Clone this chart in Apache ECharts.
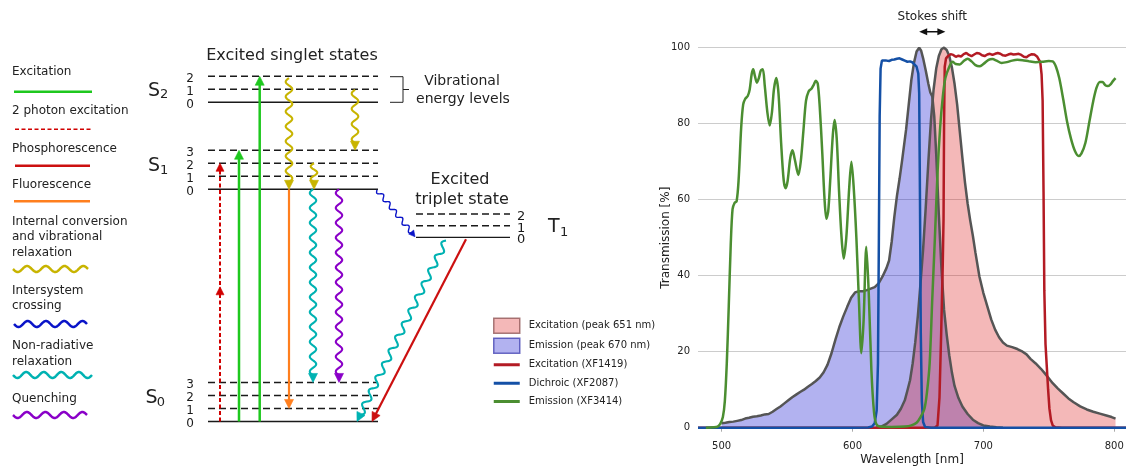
<!DOCTYPE html>
<html><head><meta charset="utf-8">
<script src="https://cdn.jsdelivr.net/npm/echarts@6/dist/echarts.min.js"></script>
<style>html,body{margin:0;padding:0;background:#fff}#c{width:1126px;height:467px}</style>
</head><body><div id="c"></div>
<script>
// ================= DATA =================
// Spectra: [wavelength nm, transmission %]
const emissionPeak = [[500,1.2],[503,1.3],[506,1.5],[509,1.6],[512,1.8],[515,2.0],[518,2.4],[521,2.6],[524,2.9],[527,3.0],[530,3.2],[533,3.5],[536,3.6],[539,4.2],[542,4.9],[545,5.6],[548,6.4],[551,7.2],[554,8.0],[557,8.7],[560,9.4],[563,10.0],[566,10.8],[569,11.5],[572,12.3],[575,13.2],[578,14.6],[581,16.6],[584,19.6],[587,23.2],[590,26.5],[593,29.3],[596,31.8],[599,34.2],[602,35.6],[605,35.9],[608,35.9],[611,36.2],[614,36.6],[617,37.0],[620,38.0],[623,39.8],[626,42.0],[628,44.0],[630,49.0],[632,55.5],[634,61.0],[636,65.5],[638,70.5],[641,78.5],[643,85],[645,91.5],[647,96],[649,99],[651,100],[652.5,99.2],[654,97.2],[656,94],[658,90.5],[659.5,88.2],[661,87.2],[662.5,82],[664,72],[666,56],[668,42],[670,31],[672,24.5],[674,19],[676,14.5],[678,11],[681,7.8],[684,5.6],[688,3.6],[692,2.1],[696,1.2],[700,0.6],[705,0.3],[710,0.1],[715,0]];
const excitationPeak = [[618,0],[622,0.3],[626,1.0],[630,2.2],[634,3.4],[637,5.0],[640,7.2],[642,9.8],[644,12.5],[646,16.9],[648,22.5],[650,29.5],[652,38],[654,47],[656,58],[658,70],[660,81],[662,89],[664,94.5],[666,97.8],[668,99.6],[670,100],[672,99.4],[674,97.8],[676,94.8],[678,90.5],[680,85],[682,78],[684,71],[686,64.5],[688,59],[690,54.5],[692,50.5],[694,46],[697,39.8],[700,35.5],[703,32],[706,28.5],[709,25.8],[712,23.8],[715,22.4],[718,21.6],[722,21.2],[726,20.7],[730,20.0],[733,19.3],[736,18.1],[740,16.9],[744,15.5],[747,14.3],[750,13.0],[753,11.7],[757,10.3],[761,9.0],[765,7.7],[769,6.7],[774,5.6],[779,4.8],[784,4.2],[789,3.7],[794,3.2],[798,2.8],[801,2.4]];
const filterExcitation = [[482,0],[655,0],[663,0.05],[665,0.6],[666.5,8],[667.8,25],[669,43],[669.6,55],[670,80],[670.5,95],[671.5,97.2],[673,97.8],[675,98.3],[677,98.1],[679,97.6],[681,97.9],[683,97.7],[685,98.3],[687,98.6],[689,98.1],[691,97.8],[693,98.2],[695,98.6],[697,98.5],[699,98],[701,97.8],[703,98.2],[705,98.4],[707,98.1],[709,98.4],[711,98.6],[713,98.4],[715,98],[717,97.9],[719,98.2],[721,98.4],[723,98.2],[725,98.3],[727,98.4],[729,98.1],[731,97.6],[733,97.5],[735,98],[737,98.3],[739,98.2],[741,97.7],[742.5,97.2],[743.5,96.2],[744.5,93],[745.3,86],[746,62],[746.6,36],[747.5,22],[748.5,16],[749.5,10],[750.5,5],[751.7,2],[753,0.6],[755,0.1],[760,0],[809,0]];
const filterDichroic = [[482,0],[600,0],[612,0.05],[615,0.3],[617,1.2],[618.5,4.5],[619.5,17],[620.2,50],[620.8,82],[621.5,94.5],[622.5,96.6],[624,96.4],[626,96.6],[628,96.5],[630,96.8],[632,96.9],[634,97.1],[636,97.2],[638,96.9],[640,96.6],[642,96.3],[644,96.4],[646,96.1],[647.5,95.7],[649,95],[650.3,93.2],[651,88],[651.6,60],[652.2,25],[653,7],[654,1.5],[655.5,0.2],[660,0],[809,0]];
const filterEmission = [[488,0],[494,0.1],[497,0.3],[499,1],[501,2.8],[502.5,7],[504,17],[505.5,32],[507,48],[508.4,57.5],[510,59.2],[511.5,59.6],[513,65],[515,79],[516.5,85],[518,86.5],[520,87.3],[521.5,89],[523,93],[524.2,94.3],[525.5,92.5],[527,90.8],[528.5,92],[530,94],[531.5,94.3],[533,90],[535,83],[536.8,79.5],[538.5,83],[540,89],[541.8,92],[543.5,88],[545.5,75],[547.5,65],[549,63],[550.5,65],[552.5,71],[554.2,73],[556,70.5],[558.7,66.5],[560.5,70],[562.5,78],[564.5,86],[566.5,88.5],[568.7,89.2],[570.5,90.3],[572,91.3],[573.5,90.5],[575,84.5],[577,72],[578.7,60],[580.1,55],[581.5,57],[583,65],[585,77],[586.4,81],[588,76],[589.8,62],[591.5,51],[593.3,44.5],[595.3,50],[597.5,63],[599.2,70],[601,63],[603,50],[605,33],[606.8,19.6],[608.5,28],[610.6,47.6],[612.5,35],[614.5,15],[616.5,4],[618.2,1],[621,0.3],[630,0.2],[640,0.3],[645,0.6],[649,1.3],[652,2.8],[655,5],[657,9.5],[659,17],[661,34],[663,50],[665,67],[667,79],[669,87],[671,92],[674,95],[676.5,96.3],[679,95.7],[682,95.6],[685,96.5],[688,97.1],[691,96.4],[694,95.4],[697,95.1],[700,95.7],[704,96.8],[707,97],[710,96.6],[714,96.0],[718,96.2],[722,96.6],[726,96.8],[730,96.7],[735,96.4],[740,96.2],[745,96.3],[750,96.5],[753,96.4],[755.5,95],[758,92],[761,86.5],[764,80.5],[767,76],[770,72.8],[772.8,71.5],[775,72.2],[778,75],[781,80.5],[784,86],[786.5,89.5],[789,91],[791,91],[793,90.2],[795,89.9],[797,90.3],[799,91.2],[801,92]];
const seriesNames = ['Excitation (peak 651 nm)','Emission (peak 670 nm)','Excitation (XF1419)','Dichroic (XF2087)','Emission (XF3414)'];
const xTicks = [500,600,700,800];
const stokes = [651, 671, 104.2];

// Jablonski diagram: energy levels (energy units; vibrational spacing = 1)
const levelState = ['S0','S1','S2','T1'];
const levelBase  = [0, 17.85, 24.54, 14.15];
const levelStep  = [1, 1, 1, 0.9];
const levelCount = [4, 4, 3, 3];
const levelX0    = [208, 208, 208, 416];
const levelX1    = [378, 378, 378, 510];
// transitions
const transKind = ['twoPhoton','excitation','excitation','ic','ic','ic','fluor','nonrad','quench','isc','nonrad','phos'];
const transX0   = [220, 239, 259.7, 289, 355, 314, 289, 313, 339, 377, 446, 466];
const transE0   = [0, 0, 0, 26.4, 25.5, 19.85, 17.85, 17.85, 17.85, 17.8, 13.9, 14.0];
const transX1   = [220, 239, 259.7, 289, 355, 314, 289, 313, 339, 415, 357, 372];
const transE1   = [19.85, 20.85, 26.54, 17.85, 20.85, 17.85, 1, 3, 3, 14.2, 0, 0];
const transMid  = [10.35, null, null, null, null, null, null, null, null, null, null, null];
const legendKinds = ['excitation','twoPhoton','phos','fluor','ic','isc','nonrad','quench'];
const legendTexts = [['Excitation'],['2 photon excitation'],['Phosphorescence'],['Fluorescence'],['Internal conversion','and vibrational','relaxation'],['Intersystem','crossing'],['Non-radiative','relaxation'],['Quenching']];

// ================= STYLE =================
const FONT = '"DejaVu Sans", sans-serif';
const TXT = '#222';
const kindStyle = {
  excitation:{color:'#1ec81e', width:2.5, head:[9,4.5]},
  twoPhoton:{color:'#d00000', width:2, dash:[4,2.5], head:[8,4]},
  phos:{color:'#cc1010', width:2.2, head:[9,4.5]},
  fluor:{color:'#ff7f1e', width:2.2, head:[9,4.5]},
  ic:{color:'#c8b400', width:2.1, wave:true, amp:3.3, period:15, head:[9,4.5]},
  isc:{color:'#0a14c8', width:1.4, wave:true, amp:2.2, period:10, head:[6,3.2]},
  nonrad:{color:'#00b2b2', width:2.1, wave:true, amp:3.2, period:15, head:[9,4.5]},
  quench:{color:'#8a00c8', width:2.1, wave:true, amp:3.2, period:15, head:[9,4.5]}
};

function wavePoints(p0, p1, amp, period) {
  const dx = p1[0]-p0[0], dy = p1[1]-p0[1];
  const L = Math.hypot(dx, dy);
  const ux = dx/L, uy = dy/L, nx = -uy, ny = ux;
  const halves = Math.max(1, Math.round(L/(period/2)));
  const per = 2*L/halves;
  const N = Math.ceil(L/0.6);
  const pts = [];
  for (let j = 0; j <= N; j++) {
    const s = L*j/N, o = amp*Math.sin(2*Math.PI*s/per);
    pts.push([p0[0]+ux*s+nx*o, p0[1]+uy*s+ny*o]);
  }
  return pts;
}
function headShape(tip, from, len, half) {
  const dx = tip[0]-from[0], dy = tip[1]-from[1], L = Math.hypot(dx, dy);
  const ux = dx/L, uy = dy/L, bx = tip[0]-ux*len, by = tip[1]-uy*len;
  return [[tip[0],tip[1]],[bx-uy*half, by+ux*half],[bx+uy*half, by-ux*half]];
}
function strokeStyle(st, w) {
  const s = {stroke: st.color, lineWidth: w || st.width, fill: 'none', lineJoin:'round'};
  if (st.dash) s.lineDash = st.dash;
  return s;
}

// ================= GRAPHIC (text & legend keys of the diagram) =================
const graphics = [];
function addText(text, x, y, size, align) {
  graphics.push({type:'text', x, y, silent:true, style:{text, font: size+'px '+FONT, fill:TXT, align: align||'left', verticalAlign:'middle'}});
}
const legendTextY = [[72],[110.7],[148.7],[184.7],[221.7,237.2,252.7],[290.7,305.9],[345.7,361.7],[399]];
const legendKeyY = [91.7,129.3,165.7,201.3,269,324,375,415];
const legendKeyX = [[14,92],[15,93],[15,90],[14,90],[13,88],[14,87],[13,92],[13,87]];
legendKinds.forEach((k, i) => {
  legendTexts[i].forEach((t, j) => addText(t, 12, legendTextY[i][j], 12));
  const st = kindStyle[k], y = legendKeyY[i], xr = legendKeyX[i];
  const pts = st.wave ? wavePoints([xr[0],y],[xr[1],y],3,18.5) : [[xr[0],y],[xr[1],y]];
  graphics.push({type:'polyline', silent:true, shape:{points:pts}, style: strokeStyle(st, st.dash ? 1.6 : 2.5)});
});
// state labels
[['S','2',148,90.7,160,95],['S','1',148,166,160,170.7],['S','0',145.5,398.3,156.7,402.7],['T','1',548,227,560,233]].forEach(a => {
  addText(a[0], a[2], a[3], 19); addText(a[1], a[4], a[5], 13);
});
addText('Excited singlet states', 292, 56, 16, 'center');
addText('Vibrational', 462, 81, 14, 'center');
addText('energy levels', 463, 99, 14, 'center');
addText('Excited', 460, 180, 16, 'center');
addText('triplet state', 462, 200, 16, 'center');
graphics.push({type:'polyline', silent:true, shape:{points:[[390,76.7],[403,76.7],[403,102.3],[390,102.3]]}, style:{stroke:'#222', lineWidth:1, fill:'none'}});
graphics.push({type:'line', silent:true, shape:{x1:403,y1:89.5,x2:409,y2:89.5}, style:{stroke:'#222', lineWidth:1}});

// ================= CHART =================
const chart = echarts.init(document.getElementById('c'), null, {renderer:'canvas'});
const pairs = a => a.map(p => [p[0], p[1]]);
// thin bar icon with full-height bounding box (tiny corner specks keep the box 26x15)
const barIcon = 'path://M0,0h0.01v0.01h-0.01Z M0,6H26V9H0Z M25.99,14.99h0.01v0.01h-0.01Z';

chart.setOption({
  animation:false,
  backgroundColor:'#fff',
  textStyle:{fontFamily:FONT},
  grid:[
    {left:0, top:0, width:640, height:467, outerBoundsMode:'none', containLabel:false},
    {left:698, top:47.7, width:428, height:380, outerBoundsMode:'none', containLabel:false}
  ],
  xAxis:[
    {gridIndex:0, type:'value', min:0, max:640, show:false},
    {gridIndex:1, type:'value', min:482, max:809,
     axisLine:{show:false}, splitLine:{show:false},
     axisTick:{show:true, customValues:xTicks, length:4, lineStyle:{color:'#aaa'}},
     axisLabel:{customValues:xTicks, fontSize:10, color:TXT, margin:14, fontFamily:FONT},
     name:'Wavelength [nm]', nameLocation:'middle', nameGap:26, nameMoveOverlap:false,
     nameTextStyle:{fontSize:12, color:TXT, fontFamily:FONT}}
  ],
  yAxis:[
    {gridIndex:0, type:'value', min:-3.5, max:32.4, show:false},
    {gridIndex:1, type:'value', min:0, max:100, interval:20,
     axisLine:{show:false}, axisTick:{show:false},
     splitLine:{lineStyle:{color:'#cccccc', width:1}},
     axisLabel:{fontSize:10, color:TXT, margin:8, fontFamily:FONT},
     name:'Transmission [%]', nameLocation:'middle', nameGap:26, nameMoveOverlap:false,
     nameTextStyle:{fontSize:12, color:TXT, fontFamily:FONT}}
  ],
  legend:{
    orient:'vertical', left:493, top:317.5, padding:0, itemWidth:26, itemHeight:15, itemGap:3.4,
    selectedMode:false, symbolKeepAspect:true,
    textStyle:{fontSize:10, color:TXT, fontFamily:FONT, padding:[0,0,0,4]},
    data:[
      {name:seriesNames[0], icon:'rect', itemStyle:{color:'rgba(220,20,20,0.3)', borderColor:'rgba(140,80,80,0.75)', borderWidth:1.5}},
      {name:seriesNames[1], icon:'rect', itemStyle:{color:'rgba(0,0,205,0.3)', borderColor:'rgba(70,70,180,0.8)', borderWidth:1.5}},
      {name:seriesNames[2], icon:barIcon},
      {name:seriesNames[3], icon:barIcon},
      {name:seriesNames[4], icon:barIcon}
    ]
  },
  graphic: graphics,
  series:[
    // ---- Jablonski levels ----
    {type:'custom', xAxisIndex:0, yAxisIndex:0, silent:true, clip:false,
     data: levelState.flatMap((s, i) => Array.from({length:levelCount[i]}, (_, v) => [i, v])),
     renderItem:(params, api) => {
       const s = api.value(0), v = api.value(1);
       const e = levelBase[s] + v*levelStep[s];
       const a = api.coord([levelX0[s], e]), b = api.coord([levelX1[s], e]);
       const ls = {stroke:'#1a1a1a', lineWidth:1.4};
       if (v) ls.lineDash = [7,4];
       const isT = levelState[s][0] === 'T';
       return {type:'group', children:[
         {type:'line', shape:{x1:a[0], y1:a[1], x2:b[0], y2:b[1]}, style:ls},
         {type:'text', x: isT ? b[0]+7 : a[0]-18, y: a[1]+2.6,
          style:{text:String(v), font:(isT?13:12)+'px '+FONT, fill:'#1a1a1a', align:isT?'left':'center', verticalAlign:'middle'}}
       ]};
     }},
    // ---- Jablonski transitions ----
    {type:'custom', xAxisIndex:0, yAxisIndex:0, silent:true, clip:false,
     data: transKind.map((k, i) => [i, 0]),
     renderItem:(params, api) => {
       const i = api.value(0), st = kindStyle[transKind[i]];
       const p0 = api.coord([transX0[i], transE0[i]]), p1 = api.coord([transX1[i], transE1[i]]);
       const dx = p1[0]-p0[0], dy = p1[1]-p0[1], L = Math.hypot(dx, dy);
       const hl = st.head[0], hw = st.head[1];
       const base = [p1[0]-dx/L*hl*0.8, p1[1]-dy/L*hl*0.8];
       const pts = st.wave ? wavePoints(p0, base, st.amp, st.period) : [p0, base];
       const kids = [
         {type:'polyline', shape:{points:pts}, style:strokeStyle(st)},
         {type:'polygon', shape:{points:headShape(p1, p0, hl, hw)}, style:{fill:st.color, stroke:st.color, lineWidth:0.6, lineJoin:'round'}}
       ];
       if (transMid[i] != null) {
         const pm = api.coord([transX0[i], transMid[i]]);
         kids.push({type:'polygon', shape:{points:headShape(pm, p0, hl, hw)}, style:{fill:st.color, stroke:st.color, lineWidth:0.6}});
       }
       return {type:'group', children:kids};
     }},
    // ---- spectra ----
    {type:'line', name:seriesNames[1], xAxisIndex:1, yAxisIndex:1, data:pairs(emissionPeak), symbol:'none', clip:false, silent:true,
     lineStyle:{color:'#555555', width:2.5}, itemStyle:{color:'rgba(0,0,205,0.3)'}, areaStyle:{color:'rgba(0,0,205,0.3)', opacity:1}},
    {type:'line', name:seriesNames[0], xAxisIndex:1, yAxisIndex:1, data:pairs(excitationPeak), symbol:'none', clip:false, silent:true,
     lineStyle:{color:'#555555', width:2.5}, itemStyle:{color:'rgba(220,20,20,0.3)'}, areaStyle:{color:'rgba(220,20,20,0.3)', opacity:1}},
    {type:'line', name:seriesNames[2], xAxisIndex:1, yAxisIndex:1, data:pairs(filterExcitation), symbol:'none', clip:false, silent:true,
     lineStyle:{color:'#b31b24', width:2.5}, itemStyle:{color:'#b31b24'}},
    {type:'line', name:seriesNames[3], xAxisIndex:1, yAxisIndex:1, data:pairs(filterDichroic), symbol:'none', clip:false, silent:true,
     lineStyle:{color:'#1450a6', width:2.5}, itemStyle:{color:'#1450a6'}},
    {type:'line', name:seriesNames[4], xAxisIndex:1, yAxisIndex:1, data:pairs(filterEmission), symbol:'none', clip:false, silent:true, smooth:0.3,
     lineStyle:{color:'#4b8e31', width:2.5}, itemStyle:{color:'#4b8e31'}},
    // ---- Stokes shift annotation ----
    {type:'custom', xAxisIndex:1, yAxisIndex:1, silent:true, clip:false, z:10,
     data:[stokes], encode:{x:[0,1], y:2},
     renderItem:(params, api) => {
       const a = api.coord([api.value(0), api.value(2)]), b = api.coord([api.value(1), api.value(2)]);
       return {type:'group', children:[
         {type:'line', shape:{x1:a[0]+5, y1:a[1], x2:b[0]-5, y2:b[1]}, style:{stroke:'#111', lineWidth:1.5}},
         {type:'polygon', shape:{points:headShape(a, b, 8, 3.6)}, style:{fill:'#111'}},
         {type:'polygon', shape:{points:headShape(b, a, 8, 3.6)}, style:{fill:'#111'}},
         {type:'text', x:(a[0]+b[0])/2, y:a[1]-14.5, style:{text:'Stokes shift', font:'12px '+FONT, fill:TXT, align:'center', verticalAlign:'middle'}}
       ]};
     }}
  ]
});
</script>
</body></html>
